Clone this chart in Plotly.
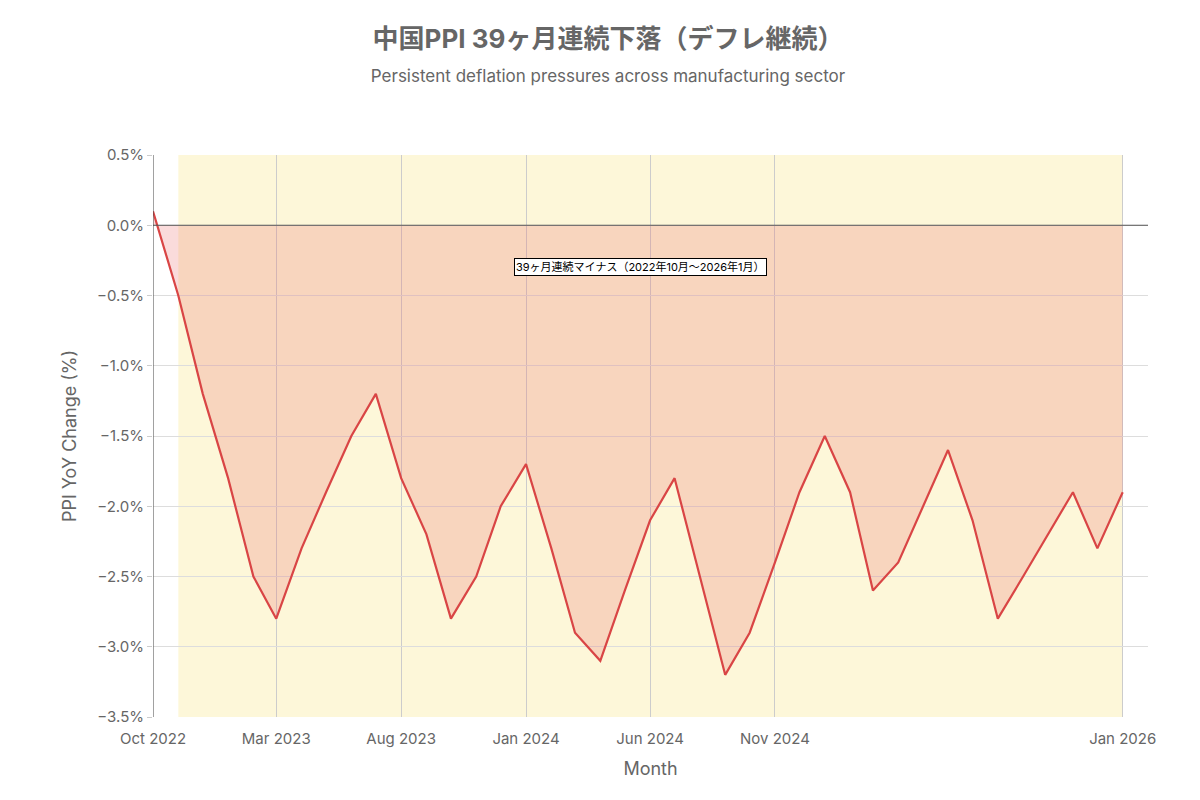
import plotly.graph_objects as go
import pandas as pd

months = pd.date_range("2022-10-01", "2026-01-01", freq="MS")
ppi = [0.1, -0.5, -1.2, -1.8, -2.5, -2.8, -2.3, -1.9, -1.5, -1.2,
       -1.8, -2.2, -2.8, -2.5, -2.0, -1.7, -2.3, -2.9, -3.1, -2.6,
       -2.1, -1.8, -2.5, -3.2, -2.9, -2.4, -1.9, -1.5, -1.9, -2.6,
       -2.4, -2.0, -1.6, -2.1, -2.8, -2.5, -2.2, -1.9, -2.3, -1.9]
tick_vals = ["2022-10-01", "2023-03-01", "2023-08-01", "2024-01-01",
             "2024-06-01", "2024-11-01", "2026-01-01"]
tick_text = ["Oct 2022", "Mar 2023", "Aug 2023", "Jan 2024",
             "Jun 2024", "Nov 2024", "Jan 2026"]

fig = go.Figure()
fig.add_vrect(x0="2022-11-01", x1="2026-01-01", fillcolor="rgba(250,235,160,0.4)",
              line_width=0, layer="below")
fig.add_trace(go.Scatter(x=months, y=ppi, mode="lines", fill="tozeroy",
                         fillcolor="rgba(235,110,110,0.25)",
                         line=dict(color="#d94545", width=2.2), showlegend=False))
fig.add_hline(y=0, line=dict(color="#555", width=1))
fig.add_annotation(x="2024-05-20", y=-0.3, text="39ヶ月連続マイナス（2022年10月〜2026年1月）",
                   showarrow=False, bgcolor="white", bordercolor="black", borderwidth=1,
                   font=dict(size=11, color="black"))

fig.update_layout(
    width=1200, height=800, plot_bgcolor="white", paper_bgcolor="white",
    font=dict(family="Inter, Noto Sans CJK JP", color="#666", size=15),
    title=dict(text="<b>中国PPI 39ヶ月連続下落（デフレ継続）</b><br><span style='font-size:17px'>Persistent deflation pressures across manufacturing sector</span>",
               x=0.5, y=0.95, font=dict(size=26, color="#666")),
    margin=dict(l=145, r=60, t=147, b=91),
    xaxis=dict(title="Month", tickvals=tick_vals, ticktext=tick_text,
               range=["2022-10-01", "2026-02-01"], showgrid=True, gridcolor="#ccc",
               showline=False, zeroline=False, ticks="outside", ticklen=8,
               tickcolor="white"),
    yaxis=dict(title="PPI YoY Change (%)", range=[-3.5, 0.5], dtick=0.5,
               tickformat=".1f", ticksuffix="%", showgrid=True, gridcolor="#ddd",
               ticks="outside", tickcolor="#ccc", zeroline=False),
)
fig.add_vline(x="2022-10-01", line=dict(color="#444", width=1))
fig.write_html("out.html")
